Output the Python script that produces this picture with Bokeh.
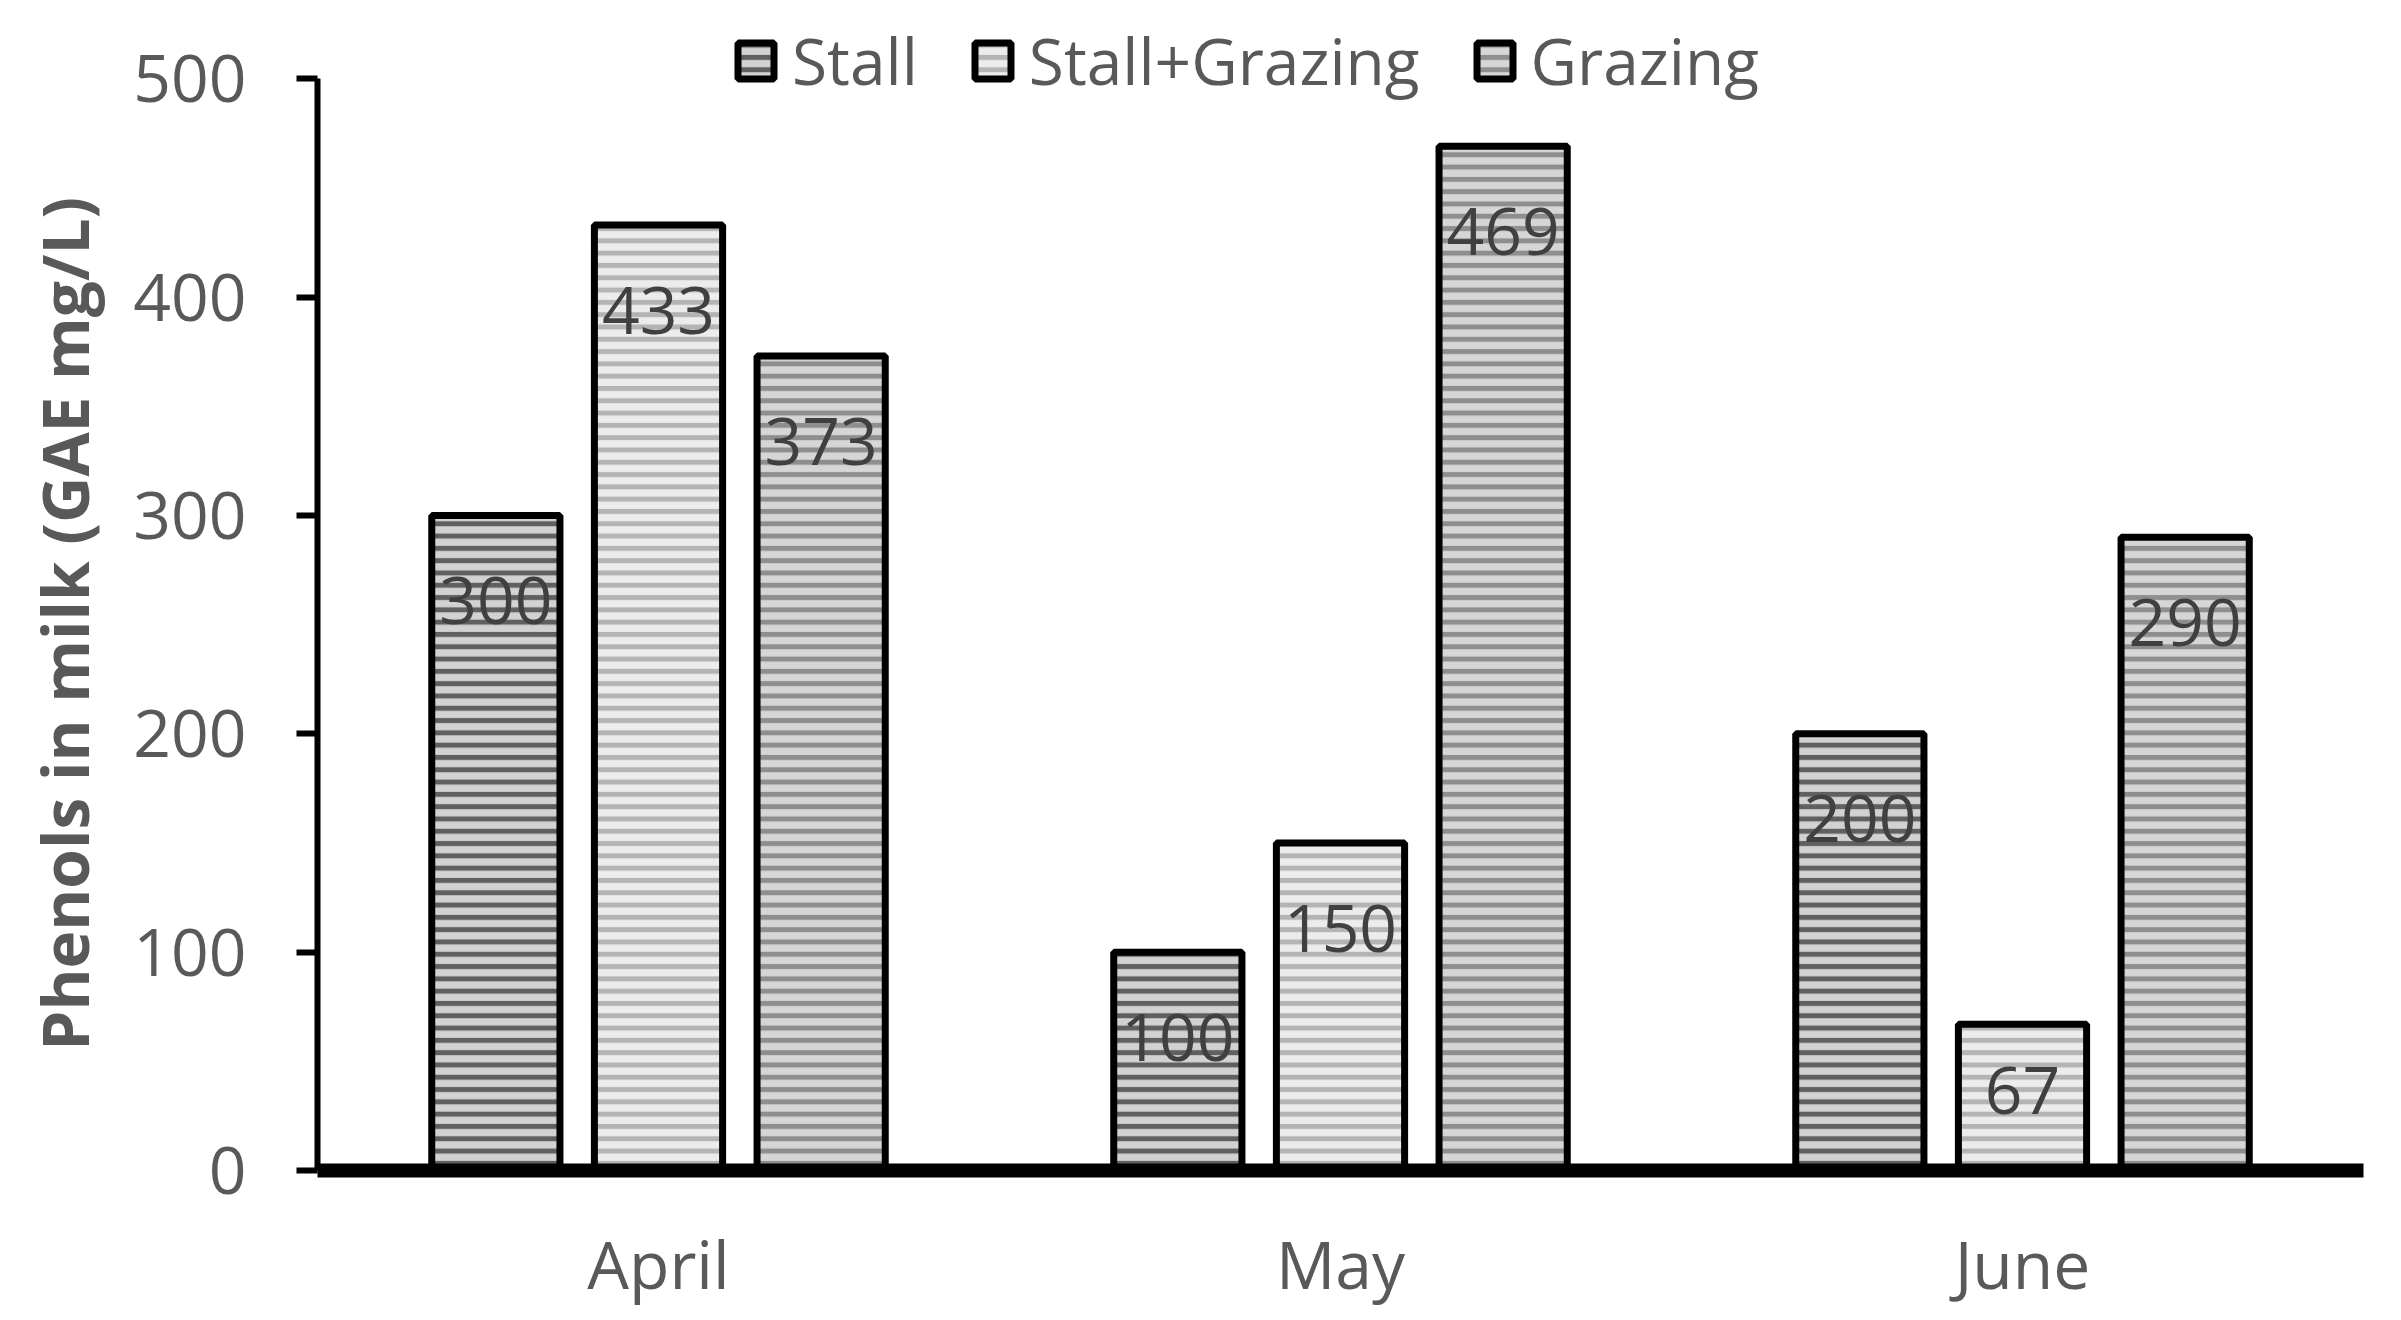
from bokeh.plotting import figure
from bokeh.models import ColumnDataSource, FixedTicker, Legend, LegendItem, FactorRange, Range1d
from bokeh.transform import dodge
from bokeh.embed import file_html
from bokeh.resources import INLINE
from bokeh.core.properties import value

months = ["April", "May", "June"]
series = ["Stall", "Stall+Grazing", "Grazing"]
stall = [300, 100, 200]
stall_grazing = [433, 150, 67]
grazing = [373, 469, 290]
y_ticks = [0, 100, 200, 300, 400, 500]

values = {"Stall": stall, "Stall+Grazing": stall_grazing, "Grazing": grazing}
fills = {"Stall": "#d2d2d2", "Stall+Grazing": "#ececec", "Grazing": "#d6d6d6"}
hatches = {"Stall": "#606060", "Stall+Grazing": "#b4b4b4", "Grazing": "#8e8e8e"}
offsets = {"Stall": -0.2385, "Stall+Grazing": 0.0, "Grazing": 0.2385}

W, H = 2385, 1312
p = figure(x_range=FactorRange(*months), y_range=Range1d(0, 531.2),
           width=W, height=H, output_backend="svg", toolbar_location=None,
           min_border_left=317, min_border_right=22, min_border_top=10, min_border_bottom=142)
p.outline_line_color = None
p.xgrid.grid_line_color = None
p.ygrid.grid_line_color = None
p.background_fill_color = "white"

TICK_FONT = "Open Sans"
GRAY = "#595959"

items = []
for s in series:
    vals = values[s]
    src = ColumnDataSource(dict(
        month=months, v=vals,
        ly=[max(v - 39, 36.6) for v in vals],
        lab=[str(v) for v in vals]))
    r = p.vbar(x=dodge("month", offsets[s], range=p.x_range), top="v", bottom=0, width=0.188,
               source=src, fill_color=fills[s], line_color="black", line_width=7,
               hatch_pattern="horizontal_line", hatch_color=hatches[s], hatch_weight=5, hatch_scale=12.3)
    p.text(x=dodge("month", offsets[s], range=p.x_range), y="ly", text="lab", source=src,
           text_align="center", text_baseline="middle", text_color="#404040",
           text_font=value(TICK_FONT), text_font_size="66px")
    items.append(LegendItem(label=s, renderers=[r]))

legend = Legend(items=items, orientation="horizontal", location=(416, 1066),
                glyph_width=45, glyph_height=45, label_standoff=14, spacing=52,
                padding=0, margin=0, border_line_color=None, background_fill_alpha=0,
                label_text_font=TICK_FONT, label_text_font_size="64px", label_text_color=GRAY)
p.add_layout(legend, "center")

# y axis
ya = p.yaxis[0]
ya.ticker = FixedTicker(ticks=y_ticks)
ya.bounds = (0, 500)
ya.minor_tick_line_color = None
ya.major_tick_out = 21
ya.major_tick_in = 0
ya.major_tick_line_width = 6
ya.major_tick_line_color = "black"
ya.axis_line_width = 6
ya.axis_line_color = "black"
ya.major_label_text_font = TICK_FONT
ya.major_label_text_font_size = "66px"
ya.major_label_text_color = GRAY
ya.major_label_standoff = 50
ya.axis_label = "Phenols in milk (GAE mg/L)" + "\u00a0" * 4
ya.axis_label_text_font = TICK_FONT
ya.axis_label_text_font_style = "bold"
ya.axis_label_text_font_size = "64px"
ya.axis_label_text_color = GRAY
ya.axis_label_standoff = 22

# x axis
xa = p.xaxis[0]
xa.axis_line_width = 14
xa.axis_line_color = "black"
xa.major_tick_line_color = None
xa.minor_tick_line_color = None
xa.major_label_text_font = TICK_FONT
xa.major_label_text_font_size = "66px"
xa.major_label_text_color = GRAY
xa.major_label_standoff = 41

open("out.html", "w").write(file_html(p, INLINE))
